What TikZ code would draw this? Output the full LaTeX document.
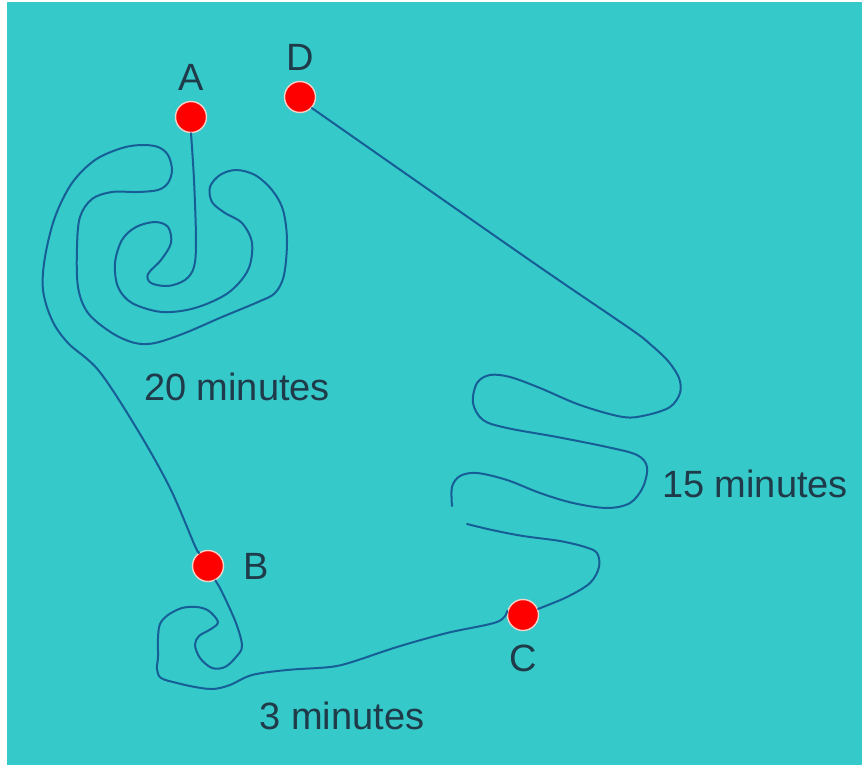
\documentclass[tikz,border=0pt]{standalone}
\usepackage{fontspec}
\setmainfont{Liberation Sans}
\usepackage{tikz}
\usetikzlibrary{calc}

\definecolor{lagoon}{HTML}{35C9CA}
\definecolor{routeblue}{HTML}{165E95}
\definecolor{ink}{HTML}{1F3A48}
\definecolor{rim}{HTML}{F4D2C8}

\begin{document}
\begin{tikzpicture}[x=0.5pt, y=-0.5pt]
		\tikzstyle{every node}=[font=\fontsize{19}{23}\selectfont, text=ink]
		\tikzstyle{spot}=[circle, fill=red, draw=rim, line width=0.7pt, minimum size=15.5pt, inner sep=0pt]
		\tikzstyle{every label}=[inner sep=0pt, text=ink]
		\tikzstyle{trail}=[draw=routeblue, line width=1pt, line cap=round, line join=round]

		% backdrop
		\fill[white] (0,0) rectangle (862,765);
		\fill[lagoon] (7,2) rectangle (862,765);

		\node[spot, label={[label distance=5pt]above:A}] (A) at (191,117) {};
		\node[spot, label={[label distance=5pt]above:D}] (D) at (300,97) {};
		\node[spot, label={[label distance=9.5pt]right:B}] (B) at (208,566) {};
		\node[spot, label={[label distance=6.5pt]below:C}] (C) at (523,615) {};

		\coordinate (gapA) at (467,524);
		\coordinate (gapB) at (452,506);

		% A to B, the long spiral
		\draw[trail] plot[smooth, tension=0.55] coordinates {
			(A.south) (194,180) (196,240) (194,267) (185,280) (168,286) (151,283)
			(148,274) (161,260) (171,243) (168,227) (155,222) (136,227) (122,240)
			(115,263) (118,287) (132,303) (162,312) (195,308) (228,293) (248,270)
			(252,243) (242,223) (225,213) (212,202) (210,187) (220,175) (236,170)
			(255,175) (272,190) (283,210) (287,240) (284,275) (275,293) (258,302)
			(222,317) (185,333) (155,343) (135,343) (112,333) (88,313) (78,287)
			(77,247) (80,217) (92,199) (112,192) (138,192) (158,190) (168,183)
			(172,170) (168,155) (158,147) (142,145) (122,148) (95,160) (72,183)
			(55,217) (45,257) (43,290) (52,320) (68,343) (99,371) (137,429)
			(170,488) (195,546) (B.123)};

		% B to C, the small loop
		\draw[trail] plot[smooth, tension=0.55] coordinates {
			(B.-63) (222,592) (236,623) (242,646) (236,657) (225,667) (212,668)
			(200,658) (195,645) (199,636) (211,629) (218,622) (209,611) (197,607)
			(182,608) (168,615) (160,624) (158,638) (158,657) (157,669) (161,678)
			(177,683) (195,687) (213,689) (230,685) (252,675) (287,670) (330,667)
			(352,662) (397,647) (447,633) (497,622) (C.165)};

		% C to D, the zigzag
		\draw[trail] plot[smooth, tension=0.55] coordinates {
			(C.22) (567,597) (590,583) (599,567) (597,553) (585,547) (560,541)
			(523,536) (492,530) (gapA)};
		\draw[trail] plot[smooth, tension=0.55] coordinates {
			(gapB) (452,487) (460,476) (477,473) (507,480) (540,493) (573,503)
			(607,508) (630,503) (643,487) (647,467) (637,455) (607,447) (557,437)
			(507,428) (483,420) (473,403) (477,383) (490,375) (510,377) (540,388)
			(580,405) (623,417) (647,415) (670,407) (680,393) (679,378) (668,361)
			(650,344) (632,330) (560,281) (495,236) (D.-43)};

		\node (twenty) at (237,387) {20 minutes};
		\node (three) at (342,716) {3 minutes};
		\node (fifteen) at (755,484) {15 minutes};

	\end{tikzpicture}
\end{document}
